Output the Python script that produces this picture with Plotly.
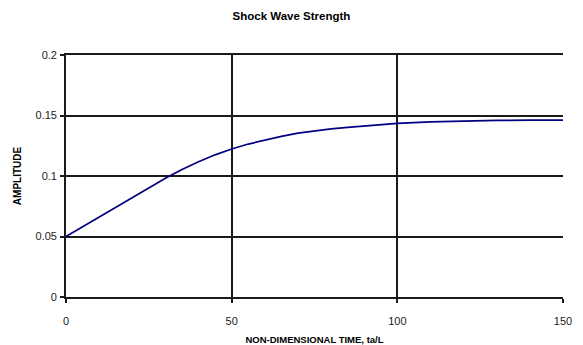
import plotly.graph_objects as go

# Shock wave amplitude against non-dimensional time ta/L
time_ta_L = [0, 5, 10, 15, 20, 25, 30, 35, 40, 45, 50, 55, 60, 65, 70, 75,
             80, 85, 90, 95, 100, 110, 120, 130, 140, 150]
amplitude = [0.0500, 0.0581, 0.0663, 0.0744, 0.0825, 0.0905, 0.0982, 0.1053,
             0.1118, 0.1175, 0.1223, 0.1264, 0.1298, 0.1327, 0.1354, 0.1373,
             0.1389, 0.1402, 0.1414, 0.1425, 0.1435, 0.1448, 0.1455, 0.1459,
             0.1461, 0.1462]

x_ticks = [0, 50, 100, 150]
y_ticks = [0, 0.05, 0.1, 0.15, 0.2]
y_tick_text = ["0", "0.05", "0.1", "0.15", "0.2"]

FONT = "Liberation Sans, Arial, sans-serif"
GRID = "#1a1a1a"

fig = go.Figure()
fig.add_trace(go.Scatter(
    x=time_ta_L, y=amplitude, mode="lines",
    line=dict(color="#000080", width=1.7),
    showlegend=False, hoverinfo="skip",
))

fig.update_layout(
    width=583, height=345,
    margin=dict(l=66, r=20, t=55, b=48),
    paper_bgcolor="white", plot_bgcolor="white",
    font=dict(family=FONT, size=11, color="#222222"),
    title=dict(text="<b>Shock Wave Strength</b>", x=0.5, xanchor="center",
               y=0.955, yanchor="middle", font=dict(size=11.5, color="black")),
)

fig.update_xaxes(
    range=[0, 150], tickmode="array", tickvals=x_ticks,
    showgrid=True, gridcolor=GRID, gridwidth=1.7,
    showline=True, mirror=True, linecolor=GRID, linewidth=1.7,
    ticks="outside", ticklen=4, tickcolor=GRID, tickwidth=1.5,
    ticklabelstandoff=9, automargin=False,
    zeroline=False, tickfont=dict(size=11),
    title=dict(text="<b>NON-DIMENSIONAL TIME, ta/L</b>",
               font=dict(size=9.5, color="black"), standoff=12),
)
fig.update_yaxes(
    range=[0, 0.2], tickmode="array", tickvals=y_ticks, ticktext=y_tick_text,
    showgrid=True, gridcolor=GRID, gridwidth=1.7,
    showline=True, linecolor=GRID, linewidth=1.7,
    ticks="outside", ticklen=4, tickcolor=GRID, tickwidth=1.5,
    ticklabelstandoff=1, automargin=False,
    zeroline=False, tickfont=dict(size=11),
    title=dict(text="<b>AMPLITUDE</b>", font=dict(size=10, color="black"),
               standoff=12),
)

fig.write_html("out.html")
